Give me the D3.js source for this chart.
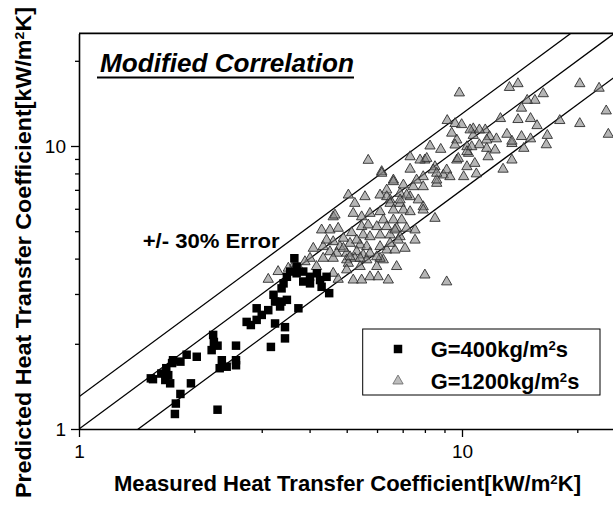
<!DOCTYPE html>
<html><head><meta charset="utf-8">
<script src="https://cdn.jsdelivr.net/npm/d3@7"></script>
<style>
body{margin:0;background:#fff}
svg{display:block}
text{font-family:"Liberation Sans",Arial,Helvetica,sans-serif}
</style>
</head><body>
<svg id="c" width="613" height="507"></svg>
<script>
// ---- data: [measured, predicted] in kW/m2K ----
const g400 = [
[1.54,1.51],[1.56,1.50],[1.64,1.57],[1.69,1.64],[1.75,1.71],[1.76,1.75],[1.84,1.73],[1.91,1.83],[2.03,1.80],
[1.68,1.49],[1.73,1.45],[1.71,1.55],[1.96,1.45],[1.84,1.33],[1.79,1.23],[1.78,1.13],[2.30,1.17],
[2.24,2.15],[2.25,2.03],[2.22,1.90],[2.30,1.97],[2.36,1.75],[2.33,1.64],[2.43,1.66],[2.57,1.75],
[2.57,1.68],[2.57,1.97],[2.74,2.39],[2.81,2.33],[2.91,2.43],[2.91,2.67],[3.00,2.53],[3.12,2.63],
[3.25,2.36],[3.17,1.95],[3.45,2.29],[3.45,2.09],[3.25,2.82],[3.38,2.82],[3.49,2.86],[3.35,2.71],
[3.74,2.67],[3.22,2.98],[3.38,3.14],[3.42,3.27],[3.49,3.45],[3.65,4.01],[3.56,3.60],[3.70,3.55],
[3.85,3.60],[4.01,3.45],[4.18,3.55],[4.26,3.36],[4.30,3.18],[4.50,3.02],[4.43,3.45],[3.85,3.32],
[4.01,3.27],[3.70,3.75]
];
const g1200 = [
[9.84,15.4],[13.3,16.1],[14.0,16.6],[20.3,16.6],[22.8,16.0],[16.3,15.3],[15.5,14.5],[14.8,14.5],
[14.3,13.6],[23.8,13.3],[12.6,12.5],[14.0,12.4],[15.1,12.5],[15.7,11.8],[18.0,12.3],[20.3,12.0],
[24.1,11.0],[9.15,12.3],[9.59,12.0],[9.98,11.9],[9.40,11.1],[10.7,11.5],[10.7,10.9],[11.5,11.4],
[11.8,10.8],[12.3,10.6],[13.1,11.0],[13.5,10.2],[14.3,10.8],[15.1,10.6],[14.5,9.81],[16.7,10.9],
[16.6,10.1],[8.25,10.0],[8.80,9.73],[8.00,8.92],[10.3,9.94],[11.1,10.1],[11.6,9.81],[9.69,8.92],
[10.4,9.42],[10.8,8.68],[11.7,9.16],[10.3,8.45],[10.9,7.97],[13.5,8.92],[12.8,8.28],[8.50,8.45],
[8.94,7.90],[7.92,7.79],[9.30,7.79],[8.59,7.38],[10.1,7.79],[10.5,11.4],[11.1,11.4],[13.5,10.4],
[7.32,9.16],[7.77,8.92],[8.09,9.04],[9.78,9.04],[10.3,9.55],[10.6,9.94],[11.6,10.5],[7.32,8.28],
[6.62,7.58],[6.17,8.12],[8.41,8.23],[9.12,8.23],[7.92,7.18],[8.59,7.58],[6.89,6.80],[6.36,6.99],
[7.46,7.18],[6.49,6.45],[6.89,6.27],[7.32,6.62],[7.92,6.10],[8.59,8.01],[5.05,6.71],[5.58,6.62],
[5.25,6.27],[6.11,6.71],[6.36,6.62],[6.49,6.27],[6.89,6.45],[7.17,6.71],[7.69,6.45],[7.92,5.94],
[8.50,5.55],[4.61,5.62],[5.20,5.78],[5.47,5.62],[5.75,5.78],[6.11,5.86],[6.62,5.94],[7.03,5.94],
[7.32,5.86],[6.23,5.48],[6.62,5.48],[6.96,5.48],[6.36,5.19],[6.75,5.12],[7.17,5.12],[7.54,5.05],
[4.30,5.05],[4.52,5.05],[4.75,5.12],[5.15,4.94],[5.47,5.19],[5.69,5.26],[5.99,5.19],[6.11,4.85],
[6.49,4.85],[6.89,4.78],[5.52,4.85],[5.75,4.78],[4.09,4.35],[4.34,4.41],[4.61,4.59],[4.80,4.41],
[5.10,4.53],[5.42,4.47],[5.64,4.41],[6.11,4.41],[6.36,4.29],[6.68,4.29],[7.10,4.35],[4.52,4.23],
[4.71,4.18],[5.00,4.18],[5.31,4.23],[5.52,4.12],[4.01,4.01],[4.34,4.01],[4.61,4.01],[5.00,3.96],
[5.25,4.01],[5.64,3.96],[6.23,3.96],[6.75,3.75],[6.11,4.01],[5.05,3.85],[5.42,3.75],[5.99,3.75],
[4.17,3.75],[4.61,3.55],[5.20,3.36],[5.47,3.36],[5.75,3.45],[6.04,3.45],[6.42,3.36],[8.00,3.50],
[9.12,3.31],[4.75,3.38],[5.00,3.65],[3.12,3.38],[3.31,3.60],[3.52,3.70],[5.69,8.90],[6.17,8.01],
[6.62,7.48],[4.66,5.70],[4.90,4.35],[5.10,4.06],[5.42,4.01],[5.75,4.18],[5.99,4.06],[6.49,4.53],
[6.82,4.65],[6.68,5.05],[4.90,4.72],[5.31,4.65],[4.43,4.65],[3.89,3.90],[3.78,3.65],[3.66,3.85],
[7.54,4.65],[7.03,7.28],[7.61,7.58],[9.69,10.5],[12.2,9.68],[9.59,10.08]
];
const axisDomain = [1, 25];
const majorTicks = [1, 10];
const minorTicks = [2, 3, 4, 5, 6, 7, 8, 9, 20];
const errorRatios = [1, 1.3, 0.7];
const legendLabels = ["G=400kg/m", "G=1200kg/m"];
const titleText = "Modified Correlation";
const errorText = "+/- 30% Error";

// ---- layout ----
const svg = d3.select("#c");
const L = 79, B = 429, DX = 383, DY = 283;
const x = d3.scaleLog().domain(axisDomain).range([L, L + DX * Math.log10(axisDomain[1])]);
const y = d3.scaleLog().domain(axisDomain).range([B, B - DY * Math.log10(axisDomain[1])]);
const FONT = '"Liberation Sans",Arial,Helvetica,sans-serif';

svg.append("defs").append("clipPath").attr("id", "clip")
  .append("rect").attr("x", x(1)).attr("y", y(25))
  .attr("width", x(25) - x(1)).attr("height", y(1) - y(25));

// error lines
const lineGen = d3.line().x(d => x(d[0])).y(d => y(d[1]));
svg.append("g").attr("clip-path", "url(#clip)")
  .selectAll("path").data(errorRatios).join("path")
  .attr("d", r => lineGen([[1, r], [25, 25 * r]]))
  .attr("fill", "none").attr("stroke", "#000").attr("stroke-width", 1.3);

// points
const plot = svg.append("g").attr("clip-path", "url(#clip)");
const tri = d3.symbol().type(d3.symbolTriangle).size(46);
const sq = d3.symbol().type(d3.symbolSquare).size(72);
const triStyle = s => s.attr("fill", "#858585").attr("fill-opacity", 0.6)
  .attr("stroke", "#2e2e2e").attr("stroke-width", 0.9);
plot.selectAll("path.t").data(g1200).join("path").attr("class", "t")
  .attr("transform", d => `translate(${x(d[0])},${y(d[1])})`)
  .attr("d", tri).call(triStyle);
plot.selectAll("path.s").data(g400).join("path").attr("class", "s")
  .attr("transform", d => `translate(${x(d[0])},${y(d[1])})`)
  .attr("d", sq).attr("fill", "#000");

// axes
const allTicks = majorTicks.concat(minorTicks);
const fmt = d => majorTicks.includes(d) ? d3.format("d")(d) : "";
const gx = svg.append("g").attr("transform", `translate(0,${B})`)
  .call(d3.axisBottom(x).tickValues(allTicks).tickFormat(fmt).tickSize(8).tickPadding(8).tickSizeOuter(0));
gx.selectAll(".tick line").attr("y2", d => majorTicks.includes(d) ? 8 : 4);
const gy = svg.append("g").attr("transform", `translate(${L},0)`)
  .call(d3.axisLeft(y).tickValues(allTicks).tickFormat(fmt).tickSize(8).tickPadding(5).tickSizeOuter(0));
gy.selectAll(".tick line").attr("x2", d => majorTicks.includes(d) ? -8 : -4);
[gx, gy].forEach(g => {
  g.select(".domain").attr("stroke-width", 1.6);
  g.selectAll(".tick line").attr("stroke-width", 1.3);
  g.selectAll(".tick text").attr("font-size", 19).attr("font-family", FONT).attr("fill", "#000");
});
// frame top / right
svg.append("line").attr("x1", x(1)).attr("x2", x(25)).attr("y1", y(25)).attr("y2", y(25))
  .attr("stroke", "#000").attr("stroke-width", 1.6);
svg.append("line").attr("x1", x(25)).attr("x2", x(25)).attr("y1", y(25)).attr("y2", y(1))
  .attr("stroke", "#000").attr("stroke-width", 1.6);

// axis titles with superscripts
function unitTitle(sel, prefix) {
  sel.append("tspan").text(prefix + "[kW/m");
  sel.append("tspan").attr("baseline-shift", "super").attr("font-size", "60%").text("2");
  sel.append("tspan").text("K]");
}
const xt = svg.append("text").attr("x", 347.5).attr("y", 491).attr("text-anchor", "middle")
  .attr("font-size", 22).attr("font-weight", "bold").attr("textLength", 467).attr("lengthAdjust", "spacingAndGlyphs");
unitTitle(xt, "Measured Heat Transfer Coefficient");
const yt = svg.append("text").attr("transform", "translate(31,252.5) rotate(-90)").attr("text-anchor", "middle")
  .attr("font-size", 22).attr("font-weight", "bold").attr("textLength", 491).attr("lengthAdjust", "spacingAndGlyphs");
unitTitle(yt, "Predicted Heat Transfer Coefficient");

// title
svg.append("text").attr("x", 100).attr("y", 72).attr("font-size", 25).attr("font-weight", "bold")
  .attr("font-style", "italic").attr("textLength", 254).attr("lengthAdjust", "spacingAndGlyphs").text(titleText);
svg.append("line").attr("x1", 97).attr("x2", 354).attr("y1", 77.5).attr("y2", 77.5)
  .attr("stroke", "#000").attr("stroke-width", 2);

// error label
svg.append("text").attr("x", 142.7).attr("y", 248).attr("font-size", 20).attr("font-weight", "bold")
  .attr("textLength", 137).attr("lengthAdjust", "spacingAndGlyphs").text(errorText);

// legend
const lg = svg.append("g");
lg.append("rect").attr("x", 362.7).attr("y", 329).attr("width", 237.3).attr("height", 66)
  .attr("fill", "#fff").attr("stroke", "#000").attr("stroke-width", 1);
lg.append("path").attr("transform", "translate(398,349)").attr("d", sq).attr("fill", "#000");
lg.append("path").attr("transform", "translate(398,381)").attr("d", tri)
  .attr("fill", "#bdbdbd").attr("stroke", "#707070").attr("stroke-width", 0.9);
const legY = [357, 388.5], legW = [137.3, 148.6];
legendLabels.forEach((lab, i) => {
  const t = lg.append("text").attr("x", 430.7).attr("y", legY[i]).attr("font-size", 22)
    .attr("font-weight", "bold").attr("textLength", legW[i]).attr("lengthAdjust", "spacingAndGlyphs");
  t.append("tspan").text(lab);
  t.append("tspan").attr("baseline-shift", "super").attr("font-size", "60%").text("2");
  t.append("tspan").text("s");
});
</script>
</body></html>
